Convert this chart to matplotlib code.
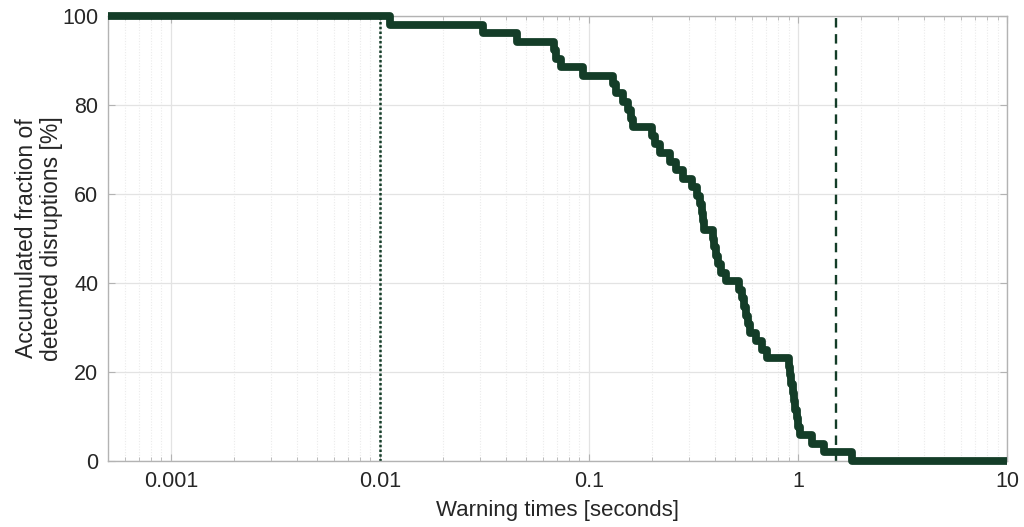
"""Accumulated fraction of detected disruptions vs. warning time (log x)."""

import matplotlib

matplotlib.use("Agg")
import matplotlib.pyplot as plt  # noqa: E402
import numpy as np  # noqa: E402
from matplotlib.ticker import FixedLocator, FuncFormatter, LogLocator, NullFormatter  # noqa: E402

# warning time of each detected disruption [s]
warning_times = [
    0.0112, 0.0311, 0.0452, 0.0680, 0.0695, 0.0734, 0.0936,
    0.1302, 0.1346, 0.1455, 0.1537, 0.1589, 0.1624,
    0.2002, 0.2069, 0.2186, 0.2441, 0.2608, 0.2818, 0.3111, 0.3286,
    0.3397, 0.3473, 0.3511, 0.3549,
    0.3920, 0.3963, 0.4052, 0.4142, 0.4281, 0.4523,
    0.5221, 0.5397, 0.5516, 0.5639, 0.5765, 0.5892, 0.6295, 0.6726, 0.7107,
    0.9056, 0.9156, 0.9258, 0.9465, 0.9570, 0.9674, 0.9890, 1.000, 1.022,
    1.167, 1.331, 1.813,
]
min_reaction_time = 0.01   # dotted marker
required_warning = 1.52    # dashed marker

x_ticks = [0.001, 0.01, 0.1, 1, 10]
y_ticks = [0, 20, 40, 60, 80, 100]
X_MIN, X_MAX = 5e-4, 10

LINE = "#143d28"
FRAME = "#b3b3b3"
INK = "#262626"
GRID = "#e3e3e3"


def main() -> None:
    plt.rcParams["font.family"] = ["Liberation Sans", "DejaVu Sans"]

    times = np.sort(np.asarray(warning_times))
    n = len(times)
    # fraction of disruptions still warned at >= t
    frac = 100.0 * np.arange(n, -1, -1) / n
    xs = np.r_[X_MIN, times, X_MAX]
    ys = np.r_[frac, 0.0]

    fig = plt.figure(figsize=(10.24, 5.27), dpi=100)
    ax = fig.add_axes([0.1055, 0.1252, 0.878, 0.8444])

    ax.set_xscale("log")
    ax.set_xlim(X_MIN, X_MAX)
    ax.set_ylim(0, 100)

    # grid: solid major, dotted minor on x
    ax.xaxis.set_major_locator(FixedLocator(x_ticks))
    ax.xaxis.set_minor_locator(LogLocator(base=10, subs=np.arange(2, 10)))
    ax.xaxis.set_minor_formatter(NullFormatter())
    ax.xaxis.set_major_formatter(FuncFormatter(lambda v, _: f"{v:g}"))
    ax.set_yticks(y_ticks)
    ax.grid(True, which="major", color=GRID, lw=0.9, zorder=0)
    ax.grid(True, which="minor", axis="x", color="#ebebeb", lw=0.8, ls=(0, (1, 1.5)), zorder=0)
    ax.set_axisbelow(True)

    ax.axvline(min_reaction_time, color=LINE, lw=1.8, ls=(0, (1, 0.9)), zorder=2)
    ax.axvline(required_warning, color=LINE, lw=1.7, ls=(0, (4, 2.8)), zorder=2)

    ax.step(xs, ys, where="post", color=LINE, lw=5.6, solid_joinstyle="round",
            solid_capstyle="butt", zorder=3, clip_on=False)

    for sp in ax.spines.values():
        sp.set_color(FRAME)
        sp.set_linewidth(1.0)
    ax.tick_params(which="both", direction="in", top=True, right=True,
                   color=FRAME, labelcolor=INK, labelsize=15.5)
    ax.tick_params(which="major", length=5, pad=7)
    ax.tick_params(which="minor", length=3)

    ax.set_xlabel("Warning times [seconds]", fontsize=16, color=INK, labelpad=6)
    ax.set_ylabel("Accumulated fraction of\ndetected disruptions [%]", fontsize=16.5,
                  color=INK, labelpad=-0.5, linespacing=1.08)

    fig.savefig("out.png", dpi=100, facecolor="white")


if __name__ == "__main__":
    main()
